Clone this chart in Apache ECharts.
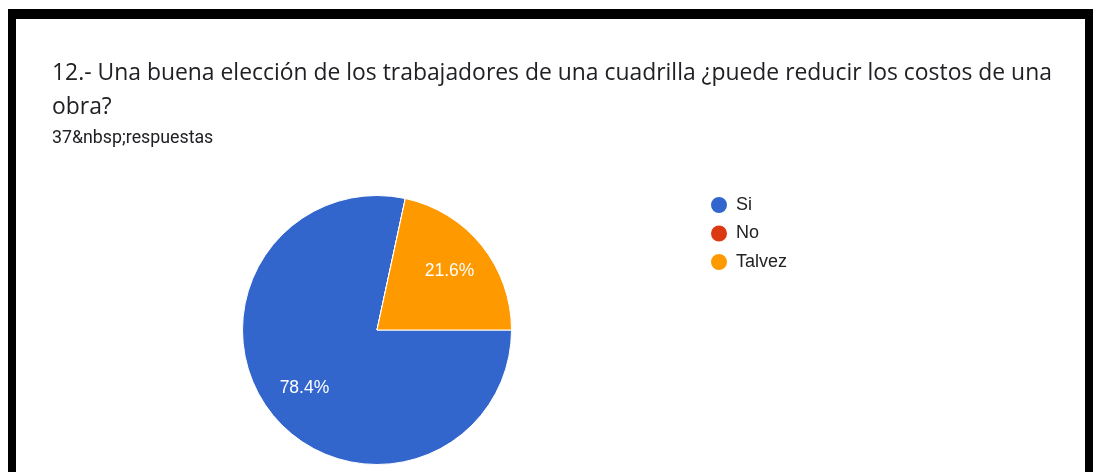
<!DOCTYPE html>
<html>
<head>
<meta charset="utf-8">
<script src="https://cdn.jsdelivr.net/npm/echarts@6/dist/echarts.min.js"></script>
<style>
  html, body { margin: 0; padding: 0; background: #ffffff; }
  #chart { position: absolute; left: 0; top: 0; width: 1101px; height: 472px; }
  #frame {
    position: absolute; left: 8px; top: 9px; width: 1085px; height: 463px;
    box-sizing: border-box; border-style: solid; border-color: #000;
    border-width: 10px 8px 0 8px; pointer-events: none;
  }
</style>
</head>
<body>
<div id="chart"></div>
<div id="frame"></div>
<script>
// Survey answers for question 12
const titleLines = [
  '12.- Una buena elección de los trabajadores de una cuadrilla ¿puede reducir los costos de una',
  'obra?'
];
const responsesText = '37&nbsp;respuestas';
const categories = ['Si', 'No', 'Talvez'];
const counts = [29, 0, 8];
const colors = ['#3366cc', '#dc3912', '#ff9900'];

const chart = echarts.init(document.getElementById('chart'), null, { renderer: 'canvas' });

const sliceData = categories.map((name, i) => ({
  name: name,
  value: counts[i],
  itemStyle: { color: colors[i] }
}));

const total = counts.reduce((a, b) => a + b, 0);

chart.setOption({
  backgroundColor: '#ffffff',
  animation: false,
  title: [
    {
      text: titleLines.join('\n'),
      left: 52,
      top: 56,
      padding: 0,
      textStyle: {
        fontFamily: 'Open Sans',
        fontSize: 22.9,
        fontWeight: 'normal',
        color: '#202124',
        lineHeight: 34
      }
    },
    {
      text: responsesText,
      left: 52,
      top: 130,
      padding: 0,
      textStyle: {
        fontFamily: 'Roboto',
        fontSize: 17.8,
        fontWeight: 'normal',
        color: '#202124'
      }
    }
  ],
  legend: {
    orient: 'vertical',
    left: 709,
    top: 195,
    padding: 0,
    icon: 'circle',
    itemWidth: 18,
    itemHeight: 18,
    itemGap: 8.5,
    selectedMode: false,
    textStyle: {
      fontFamily: 'Liberation Sans',
      fontSize: 18,
      color: '#222222',
      padding: [0, 0, 0, 3]
    },
    data: categories.map((name, i) => ({ name: name, itemStyle: { color: colors[i] } }))
  },
  series: [
    {
      name: 'slices',
      type: 'pie',
      center: [377, 330],
      radius: [0, 134.5],
      startAngle: 0,
      clockwise: true,
      silent: true,
      label: { show: false },
      labelLine: { show: false },
      itemStyle: { borderColor: '#ffffff', borderWidth: 1 },
      data: sliceData
    },
    {
      // percentage labels placed at about two thirds of the radius
      name: 'labels',
      type: 'pie',
      center: [377, 330],
      radius: [46, 134.5],
      startAngle: 0,
      clockwise: true,
      silent: true,
      legendHoverLink: false,
      itemStyle: { color: 'transparent', borderWidth: 0 },
      label: {
        show: true,
        position: 'inside',
        color: '#ffffff',
        fontFamily: 'Liberation Sans',
        fontSize: 17.5,
        formatter: p => p.value > 0 ? (p.value / total * 100).toFixed(1) + '%' : ''
      },
      labelLine: { show: false },
      data: categories.map((name, i) => ({ name: name, value: counts[i] }))
    }
  ]
});
</script>
</body>
</html>
